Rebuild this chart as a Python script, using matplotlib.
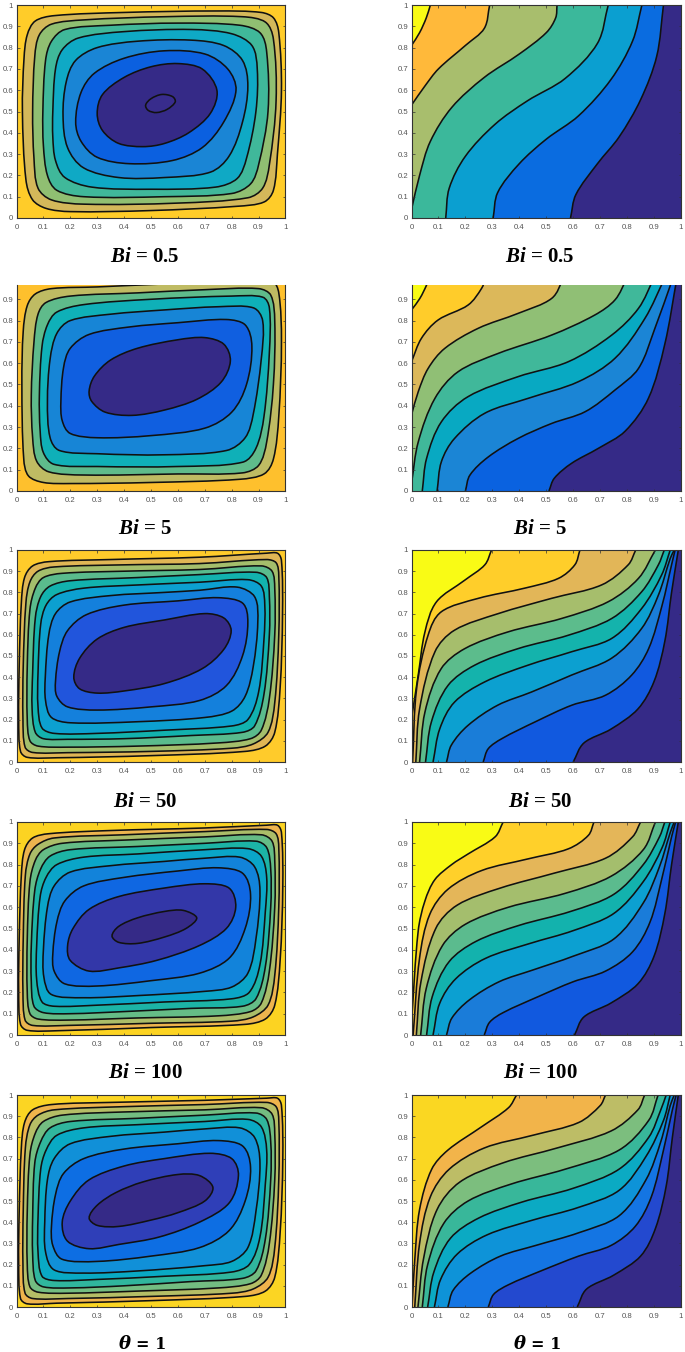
import numpy as np
import matplotlib.pyplot as plt
from matplotlib.patches import PathPatch
from matplotlib.path import Path

plt.rcParams['font.family'] = ['Liberation Sans']
plt.rcParams['mathtext.fontset'] = 'custom'
plt.rcParams['mathtext.bfit'] = 'Liberation Serif:italic:bold'
plt.rcParams['mathtext.bf'] = 'Liberation Serif:bold'
plt.rcParams['mathtext.rm'] = 'Liberation Serif:bold'

W, H = 685, 1352

# contour lines, outermost loop first
a_loops = [
    [(.022,.5),(.028,.75),(.04,.86),(.07,.925),(.14,.95),(.4,.965),(.75,.972),(.91,.965),(.955,.94),(.975,.87),(.985,.6),(.97,.3),(.955,.13),(.92,.075),(.82,.055),(.5,.035),(.2,.03),(.11,.045),(.06,.085),(.035,.18)],
    [(.06,.5),(.068,.76),(.085,.86),(.13,.91),(.25,.93),(.55,.945),(.84,.945),(.925,.92),(.955,.84),(.965,.55),(.94,.25),(.915,.14),(.86,.095),(.6,.07),(.25,.065),(.13,.085),(.08,.14),(.065,.28)],
    [(.098,.5),(.108,.74),(.13,.83),(.18,.885),(.35,.905),(.6,.915),(.83,.905),(.905,.87),(.93,.78),(.935,.5),(.9,.25),(.87,.16),(.8,.115),(.55,.1),(.25,.1),(.15,.13),(.115,.2),(.1,.34)],
    [(.135,.5),(.145,.7),(.17,.79),(.23,.845),(.4,.875),(.65,.885),(.8,.865),(.875,.81),(.895,.7),(.89,.5),(.855,.28),(.82,.185),(.74,.145),(.5,.135),(.28,.145),(.18,.19),(.145,.27),(.135,.38)],
    [(.173,.48),(.185,.64),(.22,.74),(.3,.8),(.45,.83),(.65,.835),(.77,.81),(.84,.74),(.86,.62),(.84,.45),(.79,.29),(.72,.215),(.55,.19),(.38,.19),(.25,.235),(.19,.33)],
    [(.22,.45),(.24,.59),(.29,.68),(.4,.75),(.55,.785),(.7,.77),(.785,.7),(.816,.6),(.77,.45),(.69,.33),(.58,.27),(.42,.255),(.3,.285),(.24,.36)],
    [(.3,.49),(.32,.58),(.4,.66),(.5,.71),(.6,.725),(.69,.7),(.745,.6),(.72,.49),(.64,.4),(.55,.35),(.47,.335),(.38,.35),(.32,.41)],
    [(.48,.53),(.5,.56),(.54,.58),(.58,.57),(.59,.545),(.56,.51),(.52,.495),(.49,.505)],
]
b_loops = [
    [(.02,.5),(.025,.75),(.04,.87),(.07,.925),(.13,.95),(.3,.958),(.55,.972),(.85,.985),(.95,.985),(.975,.93),(.985,.7),(.975,.35),(.955,.15),(.92,.08),(.83,.055),(.5,.04),(.2,.035),(.1,.04),(.045,.07),(.027,.15)],
    [(.055,.45),(.065,.7),(.08,.83),(.11,.885),(.2,.915),(.45,.93),(.7,.945),(.9,.95),(.945,.92),(.96,.8),(.955,.5),(.93,.23),(.9,.12),(.84,.085),(.6,.08),(.25,.075),(.12,.09),(.075,.14),(.06,.25)],
    [(.085,.45),(.095,.68),(.115,.78),(.15,.84),(.25,.875),(.5,.9),(.8,.915),(.915,.91),(.94,.86),(.94,.65),(.92,.35),(.89,.2),(.84,.135),(.6,.115),(.3,.115),(.14,.125),(.1,.18),(.088,.28)],
    [(.115,.42),(.125,.62),(.15,.74),(.2,.8),(.35,.83),(.55,.85),(.75,.865),(.88,.86),(.915,.8),(.91,.62),(.88,.36),(.85,.25),(.78,.19),(.55,.17),(.3,.175),(.16,.19),(.125,.25)],
    [(.165,.42),(.175,.58),(.2,.67),(.27,.735),(.42,.77),(.6,.79),(.78,.805),(.85,.78),(.875,.68),(.855,.5),(.8,.37),(.7,.295),(.5,.26),(.3,.25),(.2,.27),(.17,.33)],
    [(.27,.47),(.29,.54),(.35,.615),(.45,.67),(.6,.71),(.7,.72),(.77,.69),(.795,.61),(.76,.51),(.67,.43),(.55,.38),(.43,.355),(.33,.37),(.28,.42)],
]
c_loops = [
    [(.01,.45),(.018,.75),(.03,.87),(.06,.925),(.12,.945),(.35,.955),(.68,.966),(.93,.985),(.97,.985),(.985,.95),(.989,.7),(.98,.35),(.96,.14),(.925,.075),(.85,.05),(.5,.03),(.15,.02),(.04,.022),(.015,.05),(.008,.2)],
    [(.025,.45),(.035,.75),(.05,.85),(.08,.9),(.14,.92),(.4,.93),(.68,.936),(.93,.955),(.965,.94),(.975,.88),(.975,.6),(.96,.28),(.935,.14),(.88,.085),(.8,.065),(.5,.05),(.19,.044),(.06,.045),(.032,.07),(.024,.2)],
    [(.04,.45),(.05,.72),(.07,.82),(.1,.87),(.17,.89),(.4,.9),(.68,.908),(.91,.925),(.95,.9),(.96,.82),(.96,.6),(.94,.3),(.91,.15),(.87,.11),(.75,.09),(.45,.075),(.19,.07),(.08,.075),(.05,.1),(.04,.2)],
    [(.06,.42),(.07,.68),(.09,.78),(.125,.83),(.2,.855),(.45,.87),(.68,.884),(.89,.895),(.93,.87),(.94,.78),(.94,.6),(.92,.32),(.885,.17),(.84,.14),(.65,.125),(.4,.11),(.19,.107),(.1,.11),(.07,.14),(.058,.25)],
    [(.08,.42),(.09,.65),(.11,.74),(.15,.79),(.25,.82),(.45,.835),(.68,.848),(.86,.86),(.91,.83),(.923,.74),(.92,.58),(.9,.33),(.86,.2),(.8,.17),(.55,.15),(.3,.135),(.14,.135),(.095,.16),(.08,.26)],
    [(.107,.4),(.12,.6),(.145,.7),(.2,.755),(.35,.785),(.55,.8),(.68,.81),(.82,.825),(.885,.78),(.897,.66),(.88,.45),(.85,.31),(.8,.24),(.7,.21),(.45,.19),(.2,.185),(.13,.21),(.108,.29)],
    [(.145,.38),(.16,.52),(.19,.62),(.26,.695),(.4,.74),(.6,.76),(.75,.775),(.84,.75),(.86,.66),(.84,.5),(.78,.36),(.68,.29),(.5,.26),(.3,.245),(.19,.26),(.15,.31)],
    [(.213,.4),(.235,.49),(.3,.58),(.4,.635),(.55,.67),(.7,.7),(.77,.68),(.798,.62),(.77,.53),(.69,.44),(.55,.37),(.4,.335),(.3,.325),(.235,.345)],
]
d_loops = [
    [(.01,.45),(.018,.75),(.03,.87),(.06,.925),(.12,.945),(.35,.96),(.7,.972),(.93,.985),(.97,.985),(.985,.95),(.99,.7),(.98,.35),(.96,.14),(.925,.075),(.85,.05),(.5,.035),(.15,.02),(.04,.022),(.015,.05),(.008,.2)],
    [(.025,.45),(.033,.75),(.05,.85),(.08,.895),(.14,.925),(.4,.94),(.7,.955),(.93,.965),(.965,.945),(.975,.88),(.975,.6),(.96,.28),(.935,.14),(.88,.085),(.8,.065),(.5,.055),(.19,.045),(.06,.045),(.032,.07),(.024,.2)],
    [(.04,.45),(.05,.72),(.07,.82),(.1,.87),(.17,.9),(.4,.915),(.7,.93),(.91,.94),(.95,.91),(.96,.82),(.96,.6),(.94,.3),(.91,.15),(.87,.11),(.75,.09),(.45,.08),(.19,.07),(.08,.075),(.05,.1),(.04,.2)],
    [(.055,.42),(.068,.68),(.09,.78),(.125,.84),(.2,.87),(.45,.885),(.7,.9),(.89,.91),(.93,.88),(.945,.78),(.945,.6),(.925,.32),(.89,.17),(.84,.135),(.65,.125),(.4,.11),(.2,.1),(.1,.105),(.065,.135),(.055,.25)],
    [(.075,.42),(.088,.65),(.11,.74),(.15,.8),(.25,.835),(.45,.85),(.7,.87),(.86,.875),(.91,.84),(.93,.74),(.925,.58),(.905,.33),(.865,.2),(.8,.17),(.55,.155),(.3,.14),(.14,.135),(.095,.155),(.075,.26)],
    [(.1,.4),(.115,.6),(.14,.7),(.2,.765),(.35,.795),(.55,.815),(.7,.83),(.83,.835),(.885,.79),(.905,.68),(.89,.45),(.86,.29),(.8,.225),(.7,.205),(.45,.185),(.25,.175),(.13,.19),(.102,.27)],
    [(.135,.38),(.15,.53),(.18,.63),(.25,.7),(.4,.74),(.6,.77),(.75,.785),(.84,.76),(.87,.66),(.85,.5),(.79,.36),(.68,.29),(.5,.255),(.3,.23),(.18,.24),(.14,.3)],
    [(.19,.42),(.21,.5),(.27,.59),(.38,.65),(.55,.69),(.7,.71),(.79,.69),(.815,.6),(.78,.5),(.68,.42),(.52,.35),(.38,.315),(.27,.3),(.2,.35)],
    [(.355,.465),(.38,.51),(.45,.55),(.55,.58),(.62,.585),(.67,.55),(.63,.5),(.55,.46),(.45,.43),(.38,.435)],
]
e_loops = [
    [(.01,.45),(.018,.75),(.03,.87),(.06,.93),(.13,.955),(.35,.965),(.7,.975),(.93,.985),(.97,.985),(.985,.95),(.99,.7),(.98,.35),(.96,.14),(.925,.075),(.85,.05),(.5,.03),(.15,.018),(.04,.015),(.015,.04),(.008,.2)],
    [(.025,.45),(.033,.75),(.05,.86),(.08,.905),(.14,.93),(.4,.945),(.7,.955),(.93,.965),(.965,.945),(.975,.88),(.975,.6),(.96,.28),(.935,.14),(.88,.085),(.8,.065),(.5,.05),(.19,.04),(.06,.04),(.032,.065),(.024,.2)],
    [(.04,.45),(.05,.72),(.07,.82),(.1,.875),(.17,.905),(.4,.92),(.7,.93),(.91,.94),(.95,.91),(.96,.82),(.96,.6),(.94,.3),(.91,.15),(.87,.11),(.75,.09),(.45,.075),(.19,.065),(.08,.07),(.05,.095),(.04,.2)],
    [(.06,.42),(.068,.68),(.09,.78),(.125,.845),(.2,.875),(.45,.89),(.7,.905),(.89,.915),(.93,.885),(.945,.78),(.945,.6),(.925,.32),(.89,.17),(.84,.135),(.65,.12),(.4,.1),(.2,.09),(.1,.095),(.07,.125),(.06,.25)],
    [(.08,.42),(.09,.65),(.11,.74),(.15,.81),(.25,.845),(.45,.86),(.7,.875),(.86,.885),(.91,.85),(.93,.74),(.925,.58),(.905,.33),(.865,.2),(.8,.165),(.55,.145),(.3,.13),(.14,.125),(.095,.145),(.08,.26)],
    [(.105,.4),(.115,.6),(.14,.7),(.2,.77),(.35,.805),(.55,.825),(.7,.84),(.83,.845),(.885,.8),(.905,.68),(.89,.45),(.86,.28),(.8,.215),(.7,.195),(.45,.17),(.25,.16),(.14,.175),(.108,.26)],
    [(.13,.38),(.145,.53),(.175,.63),(.25,.7),(.4,.745),(.6,.77),(.75,.785),(.84,.76),(.87,.66),(.85,.5),(.79,.36),(.68,.28),(.5,.24),(.3,.215),(.17,.225),(.135,.29)],
    [(.17,.4),(.2,.5),(.27,.6),(.4,.665),(.55,.7),(.72,.725),(.8,.7),(.825,.62),(.79,.49),(.68,.4),(.53,.33),(.38,.295),(.27,.275),(.19,.31)],
    [(.27,.42),(.3,.48),(.37,.54),(.47,.59),(.6,.625),(.68,.62),(.73,.565),(.7,.5),(.6,.445),(.5,.41),(.38,.38),(.3,.385)],
]

f_lines = [
    [(0,.81),(.03,.87),(.055,.94),(.07,1)],
    [(0,.53),(.05,.62),(.1,.7),(.2,.81),(.27,.89),(.29,1)],
    [(0,.04),(.03,.2),(.07,.36),(.15,.52),(.27,.66),(.4,.77),(.5,.87),(.535,.94),(.54,1)],
    [(.127,0),(.14,.14),(.2,.29),(.31,.44),(.43,.55),(.57,.655),(.69,.82),(.73,1)],
    [(.303,0),(.32,.12),(.4,.255),(.5,.37),(.62,.48),(.74,.65),(.82,.83),(.855,1)],
    [(.59,0),(.61,.11),(.69,.255),(.77,.38),(.85,.555),(.91,.76),(.935,1)],
]
g_lines = [
    [(0,.85),(.031,.904),(.056,.967),(.065,1)],
    [(0,.607),(.037,.717),(.099,.803),(.21,.873),(.26,.951),(.275,1)],
    [(0,.357),(.025,.466),(.062,.576),(.124,.67),(.248,.764),(.396,.834),(.52,.904),(.565,1)],
    [(0,.036),(.025,.23),(.087,.435),(.173,.56),(.322,.646),(.52,.732),(.68,.826),(.755,.897),(.8,1)],
    [(.04,0),(.056,.153),(.111,.325),(.21,.443),(.396,.537),(.582,.607),(.743,.732),(.842,.857),(.9,1)],
    [(.095,0),(.111,.138),(.16,.247),(.272,.365),(.433,.435),(.619,.513),(.755,.623),(.866,.81),(.94,1)],
    [(.2,0),(.217,.075),(.285,.16),(.396,.247),(.52,.317),(.644,.372),(.755,.474),(.842,.575),(.903,.763),(.97,1)],
    [(.51,0),(.53,.06),(.594,.13),(.693,.2),(.792,.28),(.879,.435),(.94,.69),(.985,1)],
]
h_lines = [
    [(0,.205),(.025,.41),(.05,.614),(.093,.756),(.198,.858),(.272,.93),(.297,1)],
    [(.004,0),(.019,.346),(.062,.6),(.111,.709),(.248,.772),(.42,.82),(.545,.866),(.606,.93),(.625,1)],
    [(.016,0),(.03,.25),(.087,.52),(.16,.622),(.322,.7),(.52,.772),(.705,.835),(.804,.93),(.832,1)],
    [(.03,0),(.05,.236),(.11,.44),(.198,.535),(.359,.614),(.557,.677),(.73,.756),(.842,.866),(.905,1)],
    [(.052,0),(.074,.19),(.136,.362),(.235,.457),(.396,.535),(.582,.598),(.743,.677),(.854,.803),(.916,.93),(.938,1)],
    [(.08,0),(.105,.157),(.16,.283),(.272,.378),(.433,.457),(.594,.52),(.743,.583),(.854,.724),(.928,.882),(.96,1)],
    [(.13,0),(.148,.08),(.21,.173),(.32,.268),(.445,.33),(.594,.41),(.743,.49),(.854,.63),(.916,.787),(.96,.96),(.975,1)],
    [(.266,0),(.285,.063),(.335,.11),(.46,.19),(.595,.268),(.72,.315),(.817,.41),(.88,.535),(.93,.74),(.965,.93),(.978,1)],
    [(.6,0),(.64,.09),(.74,.155),(.84,.25),(.9,.38),(.94,.57),(.965,.8),(.99,1)],
]
i_lines = [
    [(0,.06),(.025,.49),(.05,.63),(.087,.73),(.149,.8),(.21,.85),(.31,.93),(.34,1)],
    [(.006,0),(.03,.362),(.068,.567),(.136,.685),(.26,.772),(.433,.827),(.582,.874),(.656,.937),(.677,1)],
    [(.018,0),(.035,.25),(.09,.5),(.17,.61),(.33,.69),(.53,.76),(.72,.83),(.82,.93),(.85,1)],
    [(.034,0),(.055,.22),(.115,.42),(.2,.52),(.36,.6),(.57,.665),(.74,.745),(.86,.87),(.905,1)],
    [(.056,0),(.077,.18),(.14,.345),(.24,.44),(.4,.515),(.59,.58),(.75,.66),(.86,.8),(.92,.93),(.94,1)],
    [(.08,0),(.105,.15),(.165,.265),(.275,.36),(.44,.43),(.6,.49),(.75,.57),(.86,.72),(.93,.88),(.96,1)],
    [(.13,0),(.15,.08),(.215,.165),(.325,.25),(.45,.305),(.6,.37),(.75,.45),(.86,.62),(.92,.79),(.96,.95),(.975,1)],
    [(.27,0),(.29,.06),(.34,.105),(.47,.18),(.6,.25),(.72,.3),(.82,.39),(.885,.53),(.93,.74),(.965,.93),(.98,1)],
    [(.605,0),(.64,.085),(.74,.15),(.84,.24),(.9,.37),(.94,.57),(.965,.8),(.99,1)],
]
j_lines = [
    [(.002,0),(.012,.22),(.03,.46),(.075,.65),(.135,.74),(.26,.85),(.36,.94),(.39,1)],
    [(.012,0),(.03,.3),(.07,.52),(.14,.65),(.27,.75),(.45,.81),(.62,.87),(.7,.95),(.72,1)],
    [(.024,0),(.045,.23),(.095,.46),(.18,.59),(.34,.68),(.54,.75),(.74,.83),(.84,.93),(.865,1)],
    [(.04,0),(.06,.2),(.12,.395),(.21,.5),(.37,.58),(.57,.65),(.77,.74),(.88,.88),(.915,1)],
    [(.06,0),(.083,.165),(.145,.325),(.25,.42),(.41,.495),(.6,.56),(.77,.65),(.88,.8),(.925,.93),(.945,1)],
    [(.085,0),(.108,.13),(.17,.25),(.28,.34),(.45,.41),(.62,.47),(.77,.55),(.87,.71),(.935,.88),(.96,1)],
    [(.135,0),(.155,.08),(.22,.16),(.33,.24),(.46,.29),(.62,.35),(.77,.43),(.87,.6),(.925,.78),(.96,.95),(.975,1)],
    [(.285,0),(.305,.06),(.36,.105),(.48,.17),(.62,.24),(.74,.29),(.83,.38),(.89,.52),(.935,.74),(.968,.93),(.982,1)],
    [(.615,0),(.65,.085),(.75,.15),(.85,.24),(.905,.37),(.945,.57),(.968,.8),(.99,1)],
]

# band colours, outermost / top-left band first
a_colors = ['#FFCC29','#D4B85A','#90BF72','#40B89A','#0FA9C5','#1A85D5','#0B60E0','#352A87','#382C8C']
b_colors = ['#FEC02D','#BFBB63','#5FBB8B','#0FB0B8','#1785D6','#105FE0','#352A87']
c_colors = ['#FFCB2B','#E0B655','#A4BE6C','#5ABB8D','#12B2AE','#0CA0D0','#1480DC','#2155DC','#352A87']
d_colors = ['#FCD322','#EDB44E','#ABBD69','#65BC86','#1CB4A6','#0AA5C8','#1283DA','#0F67E2','#3337A8','#352A87']
e_colors = ['#FBD523','#EFB44C','#B5BE66','#73BD81','#30B69D','#09A9C4','#1190D8','#0D6EE3','#2F3FB8','#352A87']
f_colors = ['#F9FB15','#FFB93A','#A8BE6D','#3BB89B','#0B9FD0','#0A6CE0','#352A87']
g_colors = ['#F9FB15','#FFCC2A','#DCB85A','#90BF75','#40B89A','#08A9C2','#1B85D5','#0A62E0','#352A87']
h_colors = ['#F9FB15','#FFCE2A','#E2B658','#A6BE6C','#5CBC8C','#14B3AC','#0CA0D0','#1A7DD8','#1159DF','#352A87']
i_colors = ['#F9FB15','#FFD02A','#E4B659','#A4BE6D','#5BBB8E','#13B2AD','#0CA0D1','#1A7CD9','#1159DF','#352A87']
j_colors = ['#FAD722','#F2B44A','#BDBD66','#7CBE7E','#38B79A','#0BAAC3','#0E93D8','#1475E3','#2349CF','#352A87']

row_tops = [5, 285, 550, 822, 1095]
row_bottoms = [218, 491, 762, 1035, 1307]
row_ymax = [1, 0.967, 1, 1, 1]
label_base = [262, 534, 807, 1078]
labels = [r'$\mathbfit{Bi}$ = 0.5', r'$\mathbfit{Bi}$ = 5', r'$\mathbfit{Bi}$ = 50', r'$\mathbfit{Bi}$ = 100']
col_left = [16.5, 411.5]
col_right = [285.5, 681]
col_mid = [145, 540]


def smooth(points, closed):
    # spline through the read points, tangents scaled by chord length so uneven spacing does not kink
    pts = np.array(points, float)
    n = len(pts)
    if closed:
        prev_p, next_p = np.roll(pts, 1, axis=0), np.roll(pts, -1, axis=0)
    else:
        prev_p = np.vstack([pts[0], pts[:-1]])
        next_p = np.vstack([pts[1:], pts[-1]])
    d_prev = np.hypot(*(pts - prev_p).T)
    d_next = np.hypot(*(next_p - pts).T)
    tang = (next_p - prev_p) / (d_prev + d_next)[:, None]
    verts = [pts[0]]
    codes = [Path.MOVETO]
    for k in range(n if closed else n - 1):
        m = (k + 1) % n
        d = d_next[k]
        verts += [pts[k] + tang[k] * d / 3, pts[m] - tang[m] * d / 3, pts[m]]
        codes += [Path.CURVE4] * 3
    return verts, codes


def draw_loops(ax, loops, colors):
    ax.set_facecolor(colors[0])
    for loop, col in zip(loops, colors[1:]):
        verts, codes = smooth(loop, True)
        ax.add_patch(PathPatch(Path(verts, codes), fc=col, ec='#111111', lw=1.15))


def draw_lines(ax, lines, colors):
    ax.set_facecolor(colors[0])
    for line, col in zip(lines, colors[1:]):
        verts, codes = smooth(line, False)
        fill_verts = verts + [(1.1, 1.1), (1.1, -0.1), (-0.1, -0.1), verts[0]]
        fill_codes = codes + [Path.LINETO] * 3 + [Path.CLOSEPOLY]
        ax.add_patch(PathPatch(Path(fill_verts, fill_codes), fc=col, ec='none'))
        ax.add_patch(PathPatch(Path(verts, codes), fc='none', ec='#111111', lw=1.15))


fig = plt.figure(figsize=(W / 100, H / 100), dpi=100)
all_loops = [a_loops, b_loops, c_loops, d_loops, e_loops]
all_lines = [f_lines, g_lines, h_lines, i_lines, j_lines]
loop_colors = [a_colors, b_colors, c_colors, d_colors, e_colors]
line_colors = [f_colors, g_colors, h_colors, i_colors, j_colors]
tick_text = ['0', '0.1', '0.2', '0.3', '0.4', '0.5', '0.6', '0.7', '0.8', '0.9', '1']

for r in range(5):
    for c in range(2):
        x0, x1 = col_left[c], col_right[c]
        y0, y1 = row_tops[r], row_bottoms[r]
        ax = fig.add_axes([x0 / W, 1 - y1 / H, (x1 - x0) / W, (y1 - y0) / H])
        if c == 0:
            draw_loops(ax, all_loops[r], loop_colors[r])
        else:
            draw_lines(ax, all_lines[r], line_colors[r])
        ax.set_xlim(0, 1)
        ax.set_ylim(0, row_ymax[r])
        ticks = np.arange(0, 11) / 10
        ax.set_xticks(ticks)
        ax.set_xticklabels(tick_text)
        yt = ticks[ticks <= row_ymax[r]]
        ax.set_yticks(yt)
        ax.set_yticklabels(tick_text[:len(yt)])
        ax.tick_params(direction='in', length=1.8, width=0.5, top=True, right=True, labelsize=5.6,
                       labelcolor='#555555', color='#333333', pad=2.5)
        ax.tick_params(axis='x', pad=4.5)
        for s in ax.spines.values():
            s.set_linewidth(0.8)
            s.set_color('#333333')
        if row_ymax[r] < 1:
            ax.spines['top'].set_visible(False)
            ax.tick_params(top=False)
        if r < 4:
            fig.text(col_mid[c] / W, 1 - label_base[r] / H, labels[r], ha='center', va='baseline', fontsize=15,
                     family='Liberation Serif', weight='bold', color='black')
        else:
            fig.text((col_mid[c] - 26) / W, 1 - 1349 / H, '\u03b8', ha='left', va='baseline', fontsize=13,
                     family='DejaVu Serif', weight='bold', style='italic', color='black')
            fig.text((col_mid[c] - 9) / W, 1 - 1349 / H, '= 1', ha='left', va='baseline', fontsize=11.5,
                     family='DejaVu Serif', weight='bold', color='black')

fig.savefig('out.png', dpi=100)
